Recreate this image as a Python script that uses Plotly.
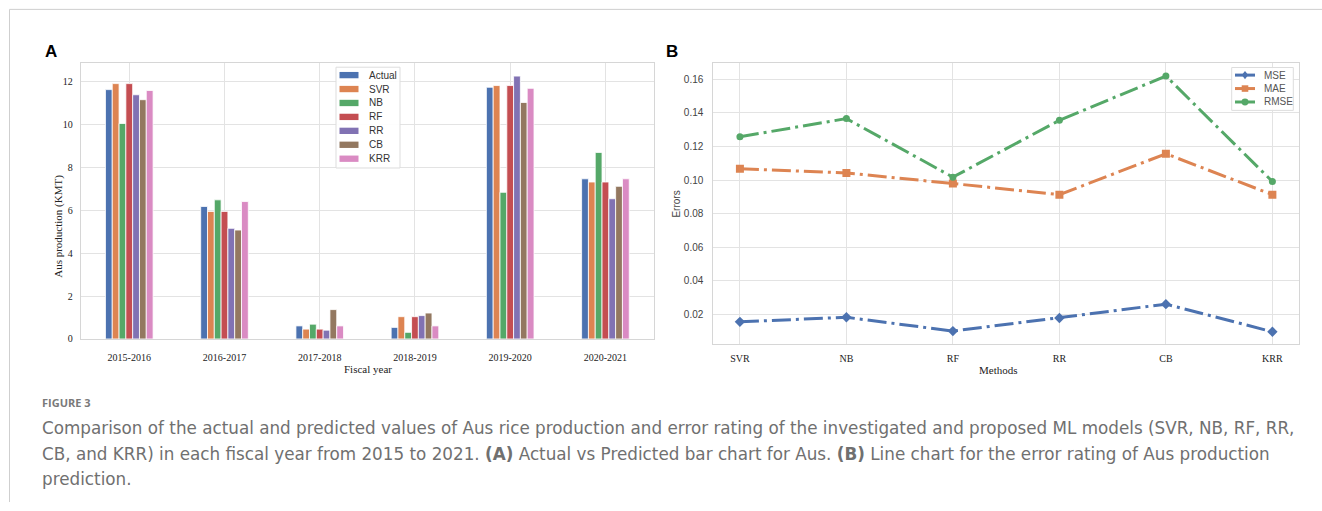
import plotly.graph_objects as go

W, H = 1322, 511

# ---------------- data ----------------
years = ["2015-2016", "2016-2017", "2017-2018", "2018-2019", "2019-2020", "2020-2021"]
series_names = ["Actual", "SVR", "NB", "RF", "RR", "CB", "KRR"]
actual = [11.63, 6.18, 0.61, 0.54, 11.74, 7.47]
svr = [11.91, 5.95, 0.46, 1.04, 11.82, 7.32]
nb = [10.05, 6.49, 0.69, 0.31, 6.84, 8.70]
rf = [11.91, 5.95, 0.46, 1.04, 11.82, 7.32]
rr = [11.39, 5.16, 0.41, 1.09, 12.26, 6.54]
cb = [11.16, 5.08, 1.37, 1.21, 11.03, 7.12]
krr = [11.59, 6.41, 0.61, 0.61, 11.69, 7.47]
bar_values = [actual, svr, nb, rf, rr, cb, krr]

methods = ["SVR", "NB", "RF", "RR", "CB", "KRR"]
error_names = ["MSE", "MAE", "RMSE"]
mse = [0.0157, 0.0184, 0.0102, 0.0180, 0.0262, 0.0098]
mae = [0.1067, 0.1042, 0.0979, 0.0913, 0.1156, 0.0913]
rmse = [0.1257, 0.1365, 0.1017, 0.1355, 0.1618, 0.0991]
error_values = [mse, mae, rmse]

left_ticks = [0, 2, 4, 6, 8, 10, 12]
right_ticks = [0.02, 0.04, 0.06, 0.08, 0.10, 0.12, 0.14, 0.16]

# ---------------- styles ----------------
palette = ["#4C72B0", "#DD8452", "#55A868", "#C44E52", "#8172B3", "#937860", "#DA8BC3"]
err_colors = ["#4C72B0", "#DD8452", "#55A868"]
err_symbols = ["diamond", "square", "circle"]
SERIF = "Liberation Serif, Times New Roman, serif"
SANS = "Liberation Sans, Arial, sans-serif"
GRID = "#e3e3e3"
FRAME = "#d6d6d6"
dash = "19px,5px,3px,5px"


def px(x):
    return x / W


def py(y):
    return 1 - y / H


fig = go.Figure()

for name, vals, col in zip(series_names, bar_values, palette):
    fig.add_trace(go.Bar(
        x=years, y=vals, name=name, marker=dict(color=col, line=dict(color="white", width=0.8)),
        xaxis="x", yaxis="y", showlegend=False))

for name, vals, col, sym in zip(error_names, error_values, err_colors, err_symbols):
    fig.add_trace(go.Scatter(
        x=methods, y=vals, name=name, mode="lines+markers",
        line=dict(color=col, width=3, dash=dash),
        marker=dict(symbol=sym, size=8 if sym != "circle" else 7, color=col),
        xaxis="x2", yaxis="y2", showlegend=False))

ax_common = dict(showgrid=True, gridcolor=GRID, gridwidth=1, showline=True, linecolor=FRAME,
                 linewidth=1, mirror=True, ticks="", zeroline=False)

fig.update_layout(
    width=W, height=H, autosize=False,
    margin=dict(l=0, r=0, t=0, b=0),
    paper_bgcolor="white", plot_bgcolor="white",
    barmode="group", bargap=0.5, bargroupgap=0,
    xaxis=dict(domain=[px(80.7), px(654)], type="category", range=[-0.51, 5.51],
               tickfont=dict(family=SERIF, size=10, color="#222"), ticklabelstandoff=9, **ax_common),
    yaxis=dict(domain=[py(343), py(64)], range=[0, 12.86], tickvals=left_ticks,
               tickfont=dict(family=SERIF, size=10, color="#222"), ticklabelstandoff=5, **ax_common),
    xaxis2=dict(domain=[px(713.3), px(1299)], type="category", range=[-0.25, 5.25], anchor="y2",
                tickfont=dict(family=SERIF, size=10, color="#222"), ticklabelstandoff=5, **ax_common),
    yaxis2=dict(domain=[py(348.3), py(64)], range=[0.0024, 0.1694], tickvals=right_ticks,
                tickformat=".2f", anchor="x2",
                tickfont=dict(family=SANS, size=10, color="#444"), ticklabelstandoff=7, **ax_common),
)

shapes = []
ann = []

# outer frame lines
shapes.append(dict(type="line", xref="paper", yref="paper", x0=px(9.5), x1=1, y0=py(9.5), y1=py(9.5),
                   line=dict(color="#cfcfcf", width=1)))
shapes.append(dict(type="line", xref="paper", yref="paper", x0=px(9.5), x1=px(9.5), y0=py(9.5), y1=py(508),
                   line=dict(color="#cfcfcf", width=1)))

# left legend (manual)
shapes.append(dict(type="rect", xref="paper", yref="paper", x0=px(336), x1=px(400), y0=py(68), y1=py(170),
                   line=dict(color="#dddddd", width=1), fillcolor="rgba(255,255,255,0.9)"))
for i, (name, col) in enumerate(zip(series_names, palette)):
    yc = 76 + i * 14.1
    shapes.append(dict(type="rect", xref="paper", yref="paper", x0=px(339.5), x1=px(358.5),
                       y0=py(yc + 3.2), y1=py(yc - 3.2), line=dict(width=0), fillcolor=col))
    ann.append(dict(text=name, x=px(367), y=py(yc), xref="paper", yref="paper", xanchor="left",
                    yanchor="middle", showarrow=False, font=dict(family=SANS, size=10, color="#333")))

# right legend (manual)
shapes.append(dict(type="rect", xref="paper", yref="paper", x0=px(1231.7), x1=px(1293.3), y0=py(68.3),
                   y1=py(111.7), line=dict(color="#dddddd", width=1), fillcolor="rgba(255,255,255,0.9)"))
for i, (name, col, sym) in enumerate(zip(error_names, err_colors, err_symbols)):
    yc = 76 + i * 13.6
    shapes.append(dict(type="line", xref="paper", yref="paper", x0=px(1235), x1=px(1255), y0=py(yc), y1=py(yc),
                       line=dict(color=col, width=3)))
    cx = 1245
    if sym == "diamond":
        path = f"M {px(cx)},{py(yc-4.2)} L {px(cx+3.2)},{py(yc)} L {px(cx)},{py(yc+4.2)} L {px(cx-3.2)},{py(yc)} Z"
        shapes.append(dict(type="path", xref="paper", yref="paper", path=path, fillcolor=col, line=dict(width=0)))
    elif sym == "square":
        shapes.append(dict(type="rect", xref="paper", yref="paper", x0=px(cx - 3.3), x1=px(cx + 3.3),
                           y0=py(yc + 3.3), y1=py(yc - 3.3), fillcolor=col, line=dict(width=0)))
    else:
        shapes.append(dict(type="circle", xref="paper", yref="paper", x0=px(cx - 3.5), x1=px(cx + 3.5),
                           y0=py(yc + 3.5), y1=py(yc - 3.5), fillcolor=col, line=dict(width=0)))
    ann.append(dict(text=name, x=px(1262), y=py(yc), xref="paper", yref="paper", xanchor="left",
                    yanchor="middle", showarrow=False, font=dict(family=SANS, size=10, color="#555")))

# axis titles
ann.append(dict(text="Aus production (KMT)", x=px(58.5), y=py(229), xref="paper", yref="paper", textangle=-90,
                showarrow=False, xanchor="center", yanchor="middle", font=dict(family=SERIF, size=11, color="#222")))
ann.append(dict(text="Fiscal year", x=px(368), y=py(373), xref="paper", yref="paper",
                showarrow=False, xanchor="center", yanchor="middle", font=dict(family=SERIF, size=11, color="#222")))
ann.append(dict(text="Errors", x=px(677), y=py(207), xref="paper", yref="paper", textangle=-90,
                showarrow=False, xanchor="center", yanchor="middle", font=dict(family=SANS, size=10, color="#444")))
ann.append(dict(text="Methods", x=px(998), y=py(374), xref="paper", yref="paper",
                showarrow=False, xanchor="center", yanchor="middle", font=dict(family=SERIF, size=11, color="#222")))

# panel labels
ann.append(dict(text="<b>A</b>", x=px(43), y=py(52), xref="paper", yref="paper", showarrow=False,
                xanchor="left", yanchor="middle", font=dict(family=SANS, size=17, color="black")))
ann.append(dict(text="<b>B</b>", x=px(664), y=py(52), xref="paper", yref="paper", showarrow=False,
                xanchor="left", yanchor="middle", font=dict(family=SANS, size=17, color="black")))

# caption
CAP = "DejaVu Sans, Open Sans, sans-serif"
ann.append(dict(text="<b>FIGURE 3</b>", x=px(40), y=py(407), xref="paper", yref="paper", showarrow=False,
                xanchor="left", yanchor="middle",
                font=dict(family="Open Sans, sans-serif", size=11, color="#7a7a7a")))
cap_lines = [
    "Comparison of the actual and predicted values of Aus rice production and error rating of the investigated and proposed ML models (SVR, NB, RF, RR,",
    "CB, and KRR) in each fiscal year from 2015 to 2021. <b>(A)</b> Actual vs Predicted bar chart for Aus. <b>(B)</b> Line chart for the error rating of Aus production",
    "prediction.",
]
for i, line in enumerate(cap_lines):
    ann.append(dict(text=line, x=px(40), y=py(433.5 + 25.8 * i), xref="paper", yref="paper", showarrow=False,
                    xanchor="left", yanchor="middle", font=dict(family=CAP, size=16.8, color="#707070")))

fig.update_layout(shapes=shapes, annotations=ann)
fig.write_html("out.html", config={"displayModeBar": False},
               post_script="document.body.style.margin='0';document.body.style.overflow='hidden';")
